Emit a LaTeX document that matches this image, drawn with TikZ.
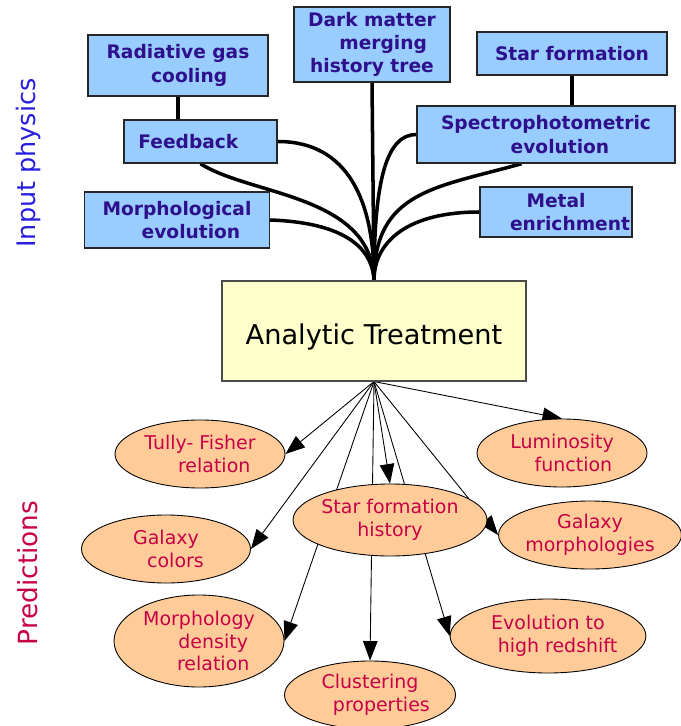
\documentclass[tikz,border=0pt]{standalone}
\usepackage{fontspec}
\setsansfont{DejaVu Sans}
\usetikzlibrary{shapes.geometric,arrows.meta,positioning,backgrounds}
\definecolor{boxblue}{RGB}{153, 204, 255}
\definecolor{inkblue}{RGB}{46, 15, 140}
\definecolor{ovalfill}{RGB}{255, 204, 153}
\definecolor{inkred}{RGB}{200, 0, 70}
\definecolor{paleyellow}{RGB}{255, 255, 204}
\definecolor{labelblue}{RGB}{40, 30, 220}

\begin{document}
\begin{tikzpicture}[x=0.02cm, y=-0.02cm, font=\sffamily,
            physbox/.style={rectangle, draw=black!85, line width=0.8pt, fill=boxblue, text=inkblue,
                align=center, inner sep=0pt, font=\sffamily\bfseries\fontsize{10.6}{13.2}\selectfont},
            pred/.style={ellipse, draw=black, line width=0.5pt, fill=ovalfill, text=inkred,
                align=center, inner sep=0pt, font=\sffamily\fontsize{10.8}{12.9}\selectfont},
            wire/.style={line width=2pt, black},
            arr/.style={-{Triangle[length=3.9mm, width=2.9mm]}, line width=0.5pt, black}]

            \useasboundingbox (0,0) rectangle (680,726);

            % Etiquetas laterales
            \node[rotate=90, text=labelblue, font=\sffamily\fontsize{14.5}{16}\selectfont] (inlabel) at (28,163) {Input physics};
            \node[rotate=90, text=inkred, font=\sffamily\fontsize{15}{17}\selectfont] (predlabel) at (28,573) {Predictions};

            % Nodo principal
            \node[rectangle, draw=black!70, line width=0.6pt, fill=paleyellow, minimum width=304*0.02cm,
                minimum height=100*0.02cm, text height=19pt, text depth=3.5pt,
                font=\sffamily\fontsize{15.5}{18}\selectfont] (atb) at (374,331) {Analytic Treatment};
            \coordinate (root) at (atb.north);

            % Fisica de entrada
            \node[physbox, minimum width=180*0.02cm, minimum height=61*0.02cm] (rgc) at (178,65.5) {Radiative gas\\\hspace*{1.2em}cooling};
            \node[physbox, minimum width=156*0.02cm, minimum height=75*0.02cm] (dm) at (372,44.5) {Dark matter\\\hspace*{1.2em}merging\\history tree};
            \node[physbox, minimum width=190*0.02cm, minimum height=43*0.02cm] (sf) at (572,53.5) {Star formation};
            \node[physbox, minimum width=153*0.02cm, minimum height=43*0.02cm] (fb) at (200.5,141.5) {Feedback\hspace*{1.3em}};
            \node[physbox, minimum width=258*0.02cm, minimum height=57*0.02cm] (spe) at (546,134.5) {Spectrophotometric\\\hspace*{1.5em}evolution};
            \node[physbox, minimum width=185*0.02cm, minimum height=56*0.02cm] (mor) at (177,220) {Morphological\\\hspace*{1.5em}evolution};
            \node[physbox, minimum width=152*0.02cm, minimum height=50*0.02cm] (met) at (556,212) {Metal\\\hspace*{1.5em}enrichment};

            % Predicciones
            \node[pred, minimum width=170*0.02cm, minimum height=68*0.02cm] (tf) at (200,454) {Tully- Fisher\\\hspace*{1.5em}relation};
            \node[pred, minimum width=170*0.02cm, minimum height=68*0.02cm] (lum) at (562,453) {Luminosity\\\hspace*{1.2em}function};
            \node[pred, minimum width=186*0.02cm, minimum height=72*0.02cm] (sfh) at (390,520) {Star formation\\history};
            \node[pred, minimum width=169*0.02cm, minimum height=68*0.02cm] (gc) at (166,549) {Galaxy\\\hspace*{1em}colors};
            \node[pred, minimum width=182*0.02cm, minimum height=68*0.02cm] (gm) at (590,535) {Galaxy\\morphologies};
            \node[pred, minimum width=170*0.02cm, minimum height=92*0.02cm] (mdr) at (199,641) {Morphology\\\hspace*{1.5em}density\\\hspace*{1.5em}relation};
            \node[pred, minimum width=186*0.02cm, minimum height=74*0.02cm] (ehr) at (548,636) {Evolution to\\\hspace*{1em}high redshift};
            \node[pred, minimum width=171*0.02cm, minimum height=68*0.02cm] (clu) at (370,695) {Clustering\\\hspace*{1.2em}properties};

            % Conexiones
            \begin{scope}[on background layer]
                \draw[wire] (rgc.south) -- (rgc.south |- fb.north);
                \draw[wire] (sf.south) -- (sf.south |- spe.north);
                \draw[wire] (dm.south) -- (root);
                \draw[wire] (fb.east) .. controls +(70,0) and +(0,-80) .. (root);
                \draw[wire] (fb.south) .. controls +(50,32) and +(-2,-86) .. (root);
                \draw[wire] (mor.east) .. controls +(85,3) and +(-1,-25) .. (root);
                \draw[wire] (spe.west) .. controls +(-30,0) and +(0,-100) .. (root);
                \draw[wire] (spe.-130) .. controls +(-85,24) and +(0,-90) .. (root);
                \draw[wire] (met.west) .. controls +(-70,0) and +(0,-40) .. (root);

                % Flechas
                \draw[arr] (atb.south) -- (tf.east);
                \draw[arr] (atb.south) -- (gc.east);
                \draw[arr] (atb.south) -- (mdr.east);
                \draw[arr] (atb.south) -- (clu.north);
                \draw[arr] (atb.south) -- (sfh.north);
                \draw[arr] (atb.south) -- (ehr.west);
                \draw[arr] (atb.south) -- (gm.west);
                \draw[arr] (atb.south) -- (lum.north);
            \end{scope}

        \end{tikzpicture}
\end{document}
